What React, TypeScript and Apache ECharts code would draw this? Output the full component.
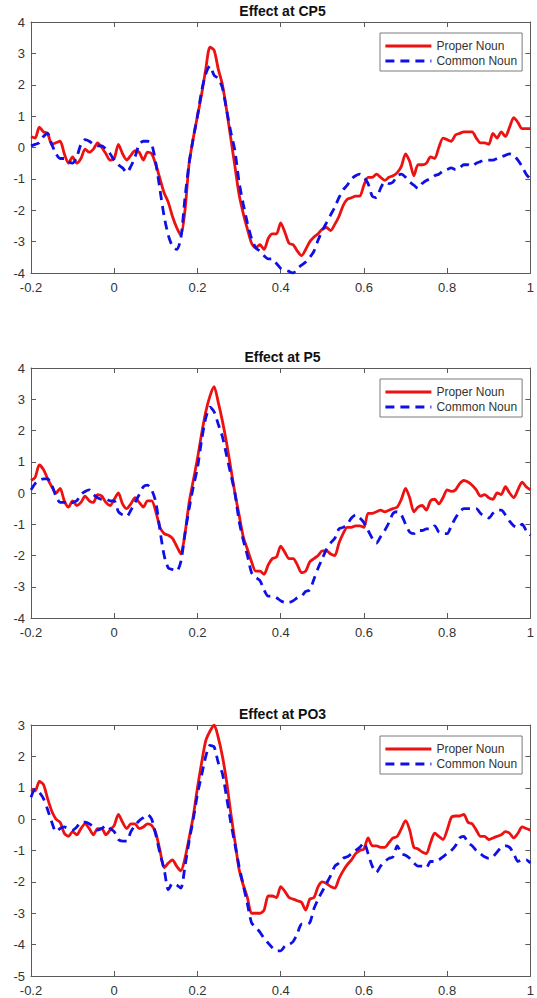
import React, { useEffect, useRef } from "react";
import * as echarts from "echarts";

const times = [
  -0.2, -0.19, -0.18, -0.17, -0.16, -0.15, -0.14, -0.13, -0.12, -0.11,
  -0.1, -0.09, -0.08, -0.07, -0.06, -0.05, -0.04, -0.03, -0.02, -0.01,
  0, 0.01, 0.02, 0.03, 0.04, 0.05, 0.06, 0.07, 0.08, 0.09,
  0.1, 0.11, 0.12, 0.13, 0.14, 0.15, 0.16, 0.17, 0.18, 0.19,
  0.2, 0.21, 0.22, 0.23, 0.24, 0.25, 0.26, 0.27, 0.28, 0.29,
  0.3, 0.31, 0.32, 0.33, 0.34, 0.35, 0.36, 0.37, 0.38, 0.39,
  0.4, 0.41, 0.42, 0.43, 0.44, 0.45, 0.46, 0.47, 0.48, 0.49,
  0.5, 0.51, 0.52, 0.53, 0.54, 0.55, 0.56, 0.57, 0.58, 0.59,
  0.6, 0.61, 0.62, 0.63, 0.64, 0.65, 0.66, 0.67, 0.68, 0.69,
  0.7, 0.71, 0.72, 0.73, 0.74, 0.75, 0.76, 0.77, 0.78, 0.79,
  0.8, 0.81, 0.82, 0.83, 0.84, 0.85, 0.86, 0.87, 0.88, 0.89,
  0.9, 0.91, 0.92, 0.93, 0.94, 0.95, 0.96, 0.97, 0.98, 0.99,
  1,
];

const cp5Proper = [
  0.35, 0.3, 0.65, 0.5, 0.45, 0.1, 0.15, 0.2, -0.2, -0.5,
  -0.3, -0.5, -0.35, -0.05, -0.15, -0.05, 0.15, 0.0, -0.2, -0.4,
  -0.35, 0.1, -0.2, -0.4, -0.25, -0.1, -0.15, -0.4, -0.15, -0.2,
  -0.55, -1.0, -1.45, -1.75, -2.2, -2.55, -2.8, -2.0, -0.5, 0.3,
  1.0, 1.7, 2.5, 3.2, 3.1, 2.5, 2.0, 1.2, 0.3, -0.6,
  -1.5, -2.1, -2.6, -3.05, -3.2, -3.1, -3.25, -2.9, -2.75, -2.75,
  -2.4, -2.7, -3.05, -3.1, -3.3, -3.45, -3.25, -3.0, -2.85, -2.75,
  -2.6, -2.55, -2.65, -2.45, -2.2, -1.85, -1.65, -1.6, -1.55, -1.55,
  -1.2, -0.95, -0.95, -0.85, -0.95, -1.05, -0.95, -0.9, -0.8, -0.6,
  -0.2, -0.45, -0.9, -0.55, -0.55, -0.5, -0.3, -0.35, 0.0, 0.3,
  0.25, 0.2, 0.4, 0.45, 0.5, 0.5, 0.5, 0.3, 0.15, 0.15,
  0.1, 0.45, 0.3, 0.5, 0.35, 0.65, 0.95, 0.8, 0.6, 0.6,
  0.6,
];

const cp5Common = [
  0.05, 0.1, 0.15, 0.35, 0.45, 0.1, -0.2, -0.35, -0.35, -0.45,
  -0.5, -0.3, 0.1, 0.25, 0.2, 0.1, 0.05, 0.05, -0.05, -0.2,
  -0.4, -0.55, -0.65, -0.8, -0.6, -0.3, 0.1, 0.2, 0.2, 0.1,
  -0.5, -1.35, -2.2, -2.8, -3.15, -3.25, -2.9, -1.6, -0.5, 0.3,
  1.0, 1.8, 2.35, 2.6, 2.3, 2.2, 1.9, 1.2, 0.5, -0.1,
  -1.1, -1.8, -2.4, -2.9, -3.2, -3.3, -3.45, -3.55, -3.55, -3.7,
  -3.85, -3.9, -3.95, -4.0, -3.85, -3.75, -3.65, -3.5, -3.3, -2.95,
  -2.65, -2.4, -2.15, -1.9, -1.6, -1.35, -1.2, -1.0, -0.9, -0.85,
  -0.95, -1.15, -1.55, -1.6, -1.3, -1.1, -1.15, -1.1, -0.9, -0.85,
  -0.95, -1.1, -1.2, -1.3, -1.15, -1.05, -1.0, -0.9, -0.85, -0.75,
  -0.7, -0.65, -0.7, -0.65, -0.55, -0.55, -0.6, -0.5, -0.45, -0.4,
  -0.4, -0.4, -0.35, -0.3, -0.25, -0.2, -0.25, -0.4, -0.6, -0.85,
  -1.0,
];

const p5Proper = [
  0.4, 0.5, 0.9, 0.75, 0.45, 0.2, 0.0, 0.15, -0.25, -0.45,
  -0.25, -0.4, -0.3, -0.1, -0.25, -0.3, -0.05, -0.1, -0.3, -0.4,
  -0.2, 0.0, -0.35, -0.5, -0.35, -0.15, -0.3, -0.45, -0.25, -0.25,
  -0.6, -1.1, -1.3, -1.35, -1.45, -1.7, -1.95, -1.3, -0.3, 0.4,
  1.1, 1.9, 2.6, 3.1, 3.4, 2.9, 2.3, 1.6, 0.8, 0.0,
  -0.7, -1.4, -1.8, -2.2, -2.5, -2.5, -2.6, -2.3, -2.1, -2.05,
  -1.7, -1.9, -2.1, -2.1, -2.3, -2.55, -2.5, -2.2, -2.1, -2.0,
  -1.85, -1.85, -1.95, -2.0, -1.6, -1.3, -1.1, -1.1, -1.05, -1.05,
  -1.1, -0.65, -0.65, -0.6, -0.55, -0.6, -0.55, -0.5, -0.45, -0.2,
  0.15, -0.15, -0.6, -0.45, -0.4, -0.55, -0.25, -0.2, -0.35, -0.15,
  0.1, 0.05, 0.1, 0.3, 0.4, 0.35, 0.25, 0.1, -0.1, -0.05,
  -0.15, -0.2, 0.0, -0.05, 0.2, 0.0, -0.15, 0.1, 0.35, 0.2,
  0.1,
];

const p5Common = [
  0.1, 0.3, 0.4, 0.45, 0.45, 0.25, -0.1, -0.3, -0.3, -0.35,
  -0.3, -0.25, -0.05, 0.05, 0.1, -0.05, -0.15, -0.2, -0.2, -0.25,
  -0.25, -0.6, -0.7, -0.75, -0.55, -0.3, -0.05, 0.2, 0.25, 0.1,
  -0.3, -1.2, -2.0, -2.4, -2.45, -2.5, -2.2, -1.3, -0.5, 0.2,
  0.8, 1.7, 2.4, 2.75, 2.6, 2.2, 1.8, 1.2, 0.6, 0.0,
  -0.9, -1.5, -2.0, -2.55, -2.7, -2.8, -3.1, -3.3, -3.3, -3.35,
  -3.45, -3.5, -3.5, -3.45, -3.35, -3.3, -3.15, -3.1, -2.75, -2.4,
  -2.1, -1.8, -1.6, -1.45, -1.15, -1.1, -1.0, -0.8, -0.7, -0.8,
  -0.95, -1.2, -1.45, -1.6, -1.4, -1.2, -0.95, -0.65, -0.6, -0.7,
  -1.0, -1.25, -1.3, -1.2, -1.2, -1.15, -1.15, -1.05, -1.25, -1.3,
  -1.3, -1.05, -0.8, -0.6, -0.5, -0.5, -0.5, -0.5, -0.65, -0.75,
  -0.8, -0.65, -0.55, -0.55, -0.7, -0.9, -1.05, -1.1, -1.0, -1.2,
  -1.35,
];

const po3Proper = [
  0.95, 0.9, 1.2, 1.1, 0.65, 0.25, 0.0, -0.1, -0.45, -0.55,
  -0.4, -0.5, -0.3, -0.15, -0.3, -0.5, -0.3, -0.3, -0.5, -0.35,
  -0.2, 0.15, -0.1, -0.3, -0.15, -0.15, -0.3, -0.25, -0.15, -0.2,
  -0.45, -1.0, -1.55, -1.4, -1.3, -1.5, -1.65, -1.25, -0.6, 0.1,
  1.0, 1.8, 2.5, 2.8, 3.0, 2.6, 2.0, 1.2, 0.2, -0.7,
  -1.6, -2.1, -2.5, -3.0, -3.0, -3.0, -2.9, -2.45, -2.45, -2.5,
  -2.15, -2.3, -2.5, -2.55, -2.6, -2.65, -2.9, -2.55, -2.5, -2.15,
  -2.0, -2.05, -2.15, -2.2, -1.9, -1.65, -1.45, -1.3, -1.1, -1.0,
  -0.95, -0.6, -0.85, -0.85, -0.9, -0.9, -0.75, -0.6, -0.55, -0.3,
  -0.05, -0.35, -0.9, -0.95, -1.05, -1.1, -0.75, -0.45, -0.55, -0.65,
  -0.35, 0.05, 0.1, 0.1, 0.15, -0.1, -0.15, -0.35, -0.55, -0.55,
  -0.65, -0.6, -0.55, -0.5, -0.4, -0.45, -0.6, -0.45, -0.25, -0.3,
  -0.35,
];

const po3Common = [
  0.7, 0.95, 0.85, 0.65, 0.3, -0.1, -0.4, -0.3, -0.25, -0.3,
  -0.35, -0.25, -0.1, -0.1, -0.15, -0.25, -0.35, -0.3, -0.2, -0.3,
  -0.4, -0.65, -0.7, -0.7, -0.4, -0.2, -0.05, 0.05, 0.15, 0.0,
  -0.5, -1.1, -1.6, -2.25, -2.05, -2.1, -2.2, -1.5, -0.7, 0.0,
  0.8, 1.4, 2.0, 2.35, 2.3, 1.8, 1.45, 0.7, -0.1, -0.8,
  -1.5, -2.1, -2.7, -3.3, -3.45, -3.6, -3.8, -3.95, -4.1, -4.2,
  -4.2, -4.05, -4.0, -3.9, -3.65, -3.35, -3.35, -3.3, -2.85, -2.55,
  -2.3, -2.05, -1.8, -1.5, -1.4, -1.25, -1.2, -1.1, -1.0, -0.9,
  -0.75, -1.1, -1.5, -1.7, -1.5, -1.35, -1.25, -1.2, -0.85, -1.1,
  -1.15, -1.25, -1.4, -1.5, -1.5, -1.55, -1.35, -1.35, -1.3, -1.2,
  -1.1, -1.0, -0.85, -0.6, -0.55, -0.75, -0.85, -1.0, -1.1, -1.2,
  -1.25, -1.2, -1.05, -0.9, -0.85, -0.9, -1.1, -1.35, -1.3, -1.3,
  -1.4,
];

const seriesNames = ["Proper Noun", "Common Noun"];
const titles = ["Effect at CP5", "Effect at P5", "Effect at PO3"];
const yMins = [-4, -4, -5];
const yMaxs = [4, 4, 3];
const xTickMin = -0.2;
const xTickMax = 1;
const xTickStep = 0.2;

const FONT = "'Liberation Sans', Arial, Helvetica, sans-serif";
const AXIS_COLOR = "#5a5a5a";
const TEXT_COLOR = "#333333";
const RED = "#ee1111";
const BLUE = "#1010e6";

const layout = [
  { top: 22, height: 251 },
  { top: 368, height: 250 },
  { top: 725, height: 251 },
];
const GRID_LEFT = 31;
const GRID_WIDTH = 503;

export default function App() {
  const ref = useRef<HTMLDivElement>(null);

  useEffect(() => {
    if (!ref.current) return;
    const chart = echarts.init(ref.current, undefined, { renderer: "svg" });

    const panelData = [
      [cp5Proper, cp5Common],
      [p5Proper, p5Common],
      [po3Proper, po3Common],
    ];

    const grid: any[] = [];
    const xAxis: any[] = [];
    const yAxis: any[] = [];
    const series: any[] = [];
    const legend: any[] = [];
    const graphic: any[] = [];

    const axisLine = { show: true, onZero: false, lineStyle: { color: AXIS_COLOR, width: 1 } };
    const axisTick = { show: true, inside: true, length: 5, lineStyle: { color: AXIS_COLOR, width: 1 } };

    layout.forEach((l, i) => {
      grid.push({ left: GRID_LEFT, top: l.top, width: GRID_WIDTH, height: l.height, containLabel: false });
      xAxis.push({
        type: "value", gridIndex: i, position: "bottom",
        min: xTickMin, max: xTickMax, interval: xTickStep,
        axisLine, axisTick, splitLine: { show: false },
        axisLabel: { show: true, margin: 8, fontSize: 13, color: TEXT_COLOR, fontFamily: FONT },
      });
      xAxis.push({
        type: "value", gridIndex: i, position: "top",
        min: xTickMin, max: xTickMax, interval: xTickStep,
        axisLine, axisTick, splitLine: { show: false }, axisLabel: { show: false },
      });
      yAxis.push({
        type: "value", gridIndex: i, position: "left",
        min: yMins[i], max: yMaxs[i], interval: 1,
        axisLine, axisTick, splitLine: { show: false },
        axisLabel: { show: true, margin: 6, fontSize: 13, color: TEXT_COLOR, fontFamily: FONT },
      });
      yAxis.push({
        type: "value", gridIndex: i, position: "right",
        min: yMins[i], max: yMaxs[i], interval: 1,
        axisLine, axisTick, splitLine: { show: false }, axisLabel: { show: false },
      });
      const [prop, comm] = panelData[i];
      series.push({
        name: seriesNames[0], type: "line",
        xAxisIndex: 2 * i, yAxisIndex: 2 * i,
        data: times.map((t, k) => [t, prop[k]]),
        showSymbol: false, symbol: "none", smooth: 0.25,
        lineStyle: { color: RED, width: 2.8, type: "solid" },
        itemStyle: { color: RED },
        z: 2,
      });
      series.push({
        name: seriesNames[1], type: "line",
        xAxisIndex: 2 * i, yAxisIndex: 2 * i,
        data: times.map((t, k) => [t, comm[k]]),
        showSymbol: false, symbol: "none", smooth: 0.25,
        lineStyle: { color: BLUE, width: 2.8, type: [9, 6] },
        itemStyle: { color: BLUE },
        z: 3,
      });
      legend.push({
        data: seriesNames,
        orient: "vertical",
        left: 380,
        top: l.top + 11,
        itemWidth: 46,
        itemHeight: 14,
        itemGap: 3,
        padding: [7, 5, 4, 4],
        borderColor: "#7a7a7a",
        borderWidth: 1,
        borderRadius: 0,
        backgroundColor: "#ffffff",
        selectedMode: false,
        itemStyle: { opacity: 0, borderWidth: 0 },
        lineStyle: { width: 2.8 },
        textStyle: { fontSize: 12, color: TEXT_COLOR, fontFamily: FONT },
        z: 10,
      });
      graphic.push({
        type: "text",
        x: GRID_LEFT + GRID_WIDTH / 2,
        y: l.top - 11,
        z: 20,
        style: {
          text: titles[i],
          fill: "#111111",
          fontSize: 14,
          fontWeight: "bold",
          fontFamily: FONT,
          align: "center",
          verticalAlign: "middle",
          textAlign: "center",
          textVerticalAlign: "middle",
        },
      });
    });

    chart.setOption({
      animation: false,
      backgroundColor: "#ffffff",
      grid,
      xAxis,
      yAxis,
      series,
      legend,
      graphic,
    });

    return () => chart.dispose();
  }, []);

  return (
    <div
      ref={ref}
      style={{ position: "fixed", left: 0, top: 0, width: 537, height: 998, background: "#fff" }}
    />
  );
}
